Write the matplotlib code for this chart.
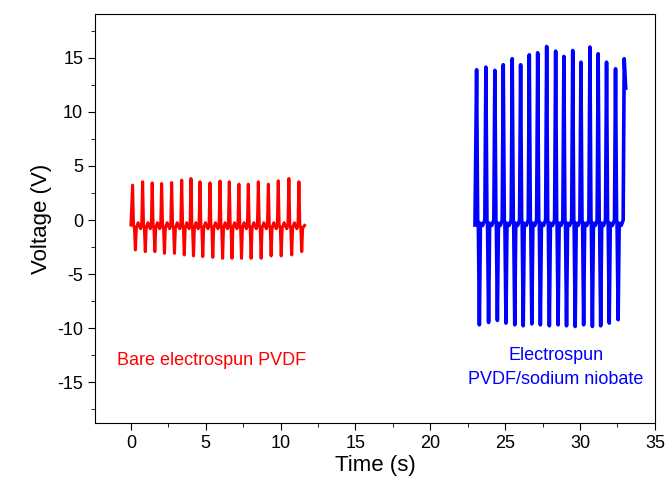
import matplotlib
matplotlib.use("Agg")
import matplotlib.pyplot as plt
from matplotlib.ticker import MultipleLocator

plt.rcParams["font.family"] = ["Liberation Sans", "DejaVu Sans"]
plt.rcParams["axes.unicode_minus"] = False

# Bare electrospun PVDF (red) - peak times / peak and trough voltages
red_peak_t = [0.11, 0.78, 1.42, 2.05, 2.72, 3.39, 4.01, 4.61, 5.28,
              5.95, 6.57, 7.21, 7.84, 8.51, 9.18, 9.84, 10.55, 11.22]
red_peak_v = [3.23, 3.54, 3.44, 3.38, 3.47, 3.69, 3.84, 3.54, 3.44,
              3.60, 3.54, 3.32, 3.32, 3.54, 3.32, 3.63, 3.84, 3.54]
red_trough_v = [-2.77, -2.92, -2.92, -3.08, -3.08, -3.23, -3.32, -3.38, -3.45,
                -3.54, -3.54, -3.54, -3.54, -3.54, -3.32, -3.32, -3.23, -2.92]
red_start = (0.0, -0.46)
red_end = (11.6, -0.5)
red_base = -0.45
# small ripple between pulses: (fraction of period, voltage)
red_ripple = [(0.55, -0.25), (0.8, -0.8)]

# Electrospun PVDF/sodium niobate (blue)
blue_peak_t = [23.09, 23.71, 24.31, 24.87, 25.47, 26.03, 26.61, 27.17, 27.77,
               28.37, 28.92, 29.51, 30.06, 30.66, 31.21, 31.77, 32.37, 32.95]
blue_peak_v = [13.90, 14.14, 13.84, 14.36, 14.92, 14.36, 15.28, 15.47, 16.05,
               15.62, 15.13, 15.68, 14.60, 16.00, 15.38, 14.60, 13.99, 14.92]
blue_trough_v = [-9.69, -9.47, -9.28, -9.53, -9.69, -9.78, -9.60, -9.69, -9.78,
                 -9.69, -9.78, -9.84, -9.69, -9.84, -9.78, -9.53, -9.22]
blue_start = (22.98, -0.46)
blue_end = (33.05, 12.2)
blue_base = 0.0
blue_ripple = [(0.65, -0.5)]


def build_trace(peak_t, peak_v, trough_v, start, end, base, ripple, trough_frac, w):
    t = [start[0]]
    v = [start[1]]
    n = len(peak_t)
    for i in range(n):
        d = peak_t[i + 1] - peak_t[i] if i < n - 1 else peak_t[i] - peak_t[i - 1]
        if i > 0:
            t.append(peak_t[i] - w)
            v.append(base)
        t.append(peak_t[i])
        v.append(peak_v[i])
        if i >= len(trough_v):
            continue
        tt = peak_t[i] + trough_frac * d
        t += [peak_t[i] + w, tt - w, tt, tt + w]
        v += [base, base - 0.3, trough_v[i], base - 0.3]
        if i < n - 1:
            for f, r in ripple:
                t.append(peak_t[i] + f * d)
                v.append(r)
    t.append(end[0])
    v.append(end[1])
    return t, v


red_t, red_v = build_trace(red_peak_t, red_peak_v, red_trough_v, red_start, red_end,
                           red_base, red_ripple, 0.28, 0.06)
blue_t, blue_v = build_trace(blue_peak_t, blue_peak_v, blue_trough_v, blue_start, blue_end,
                             blue_base, blue_ripple, 0.3, 0.07)

fig = plt.figure(figsize=(6.71, 5.0), dpi=100)
ax = fig.add_axes([0.1416, 0.1533, 0.8344, 0.8197])

ax.plot(red_t, red_v, color="#ff0000", linewidth=2.2, solid_joinstyle="round")
ax.plot(blue_t, blue_v, color="#0000ff", linewidth=2.6, solid_joinstyle="round")

ax.text(5.4, -13.0, "Bare electrospun PVDF", color="#ff0000", fontsize=13,
        ha="center", va="center")
ax.text(28.4, -13.65, "Electrospun\nPVDF/sodium niobate", color="#0000ff", fontsize=13,
        ha="center", va="center", linespacing=1.55)

ax.set_xlim(-2.4, 35)
ax.set_ylim(-18.8, 19.1)
ax.xaxis.set_major_locator(MultipleLocator(5))
ax.xaxis.set_minor_locator(MultipleLocator(2.5))
ax.yaxis.set_major_locator(MultipleLocator(5))
ax.yaxis.set_minor_locator(MultipleLocator(2.5))
ax.tick_params(which="both", direction="out", top=False, right=False, labelsize=13)
ax.tick_params(which="major", length=5)
ax.tick_params(which="minor", length=3)

ax.set_xlabel("Time (s)", fontsize=16, labelpad=2)
ax.set_ylabel("Voltage (V)", fontsize=16, labelpad=4)

plt.savefig("out.png", dpi=100)
